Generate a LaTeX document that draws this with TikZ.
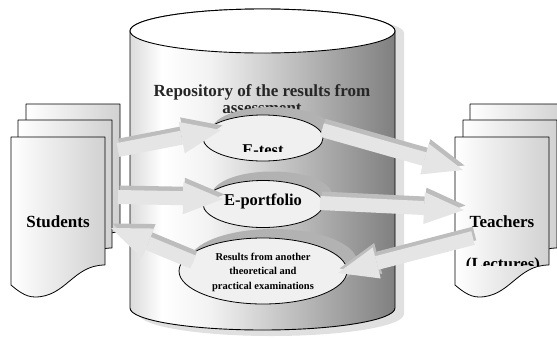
\documentclass[tikz,border=0pt]{standalone}
\usepackage{fontspec}
\setmainfont{Liberation Serif}
\usetikzlibrary{shapes.geometric,arrows.meta}
\pgfdeclarehorizontalshading{cylshade}{100bp}{color(0bp)=(black!14); color(25bp)=(black!14); color(31bp)=(white); color(40bp)=(black!5); color(75bp)=(black!50); color(100bp)=(black!50)}
\tikzset{
  leaf/.style={draw, line width=0.8pt, left color=white, right color=black!18},
  sheet/.pic={\path[leaf] (0,0) -- (94,0) -- (94,128) .. controls (62,128) and (55,160) .. (24,160) .. controls (14,160) and (6,153) .. (0,148) -- cycle;},
  bubble/.style={draw, ellipse, line width=0.8pt, fill=black!6, inner sep=0pt},
  bubshadow/.style={ellipse, fill=black!30, inner sep=0pt},
  big/.style={font=\fontsize{17}{17}\selectfont\bfseries, text=black!85},
  mid/.style={font=\fontsize{16.5}{17}\selectfont\bfseries},
  small/.style={font=\fontsize{10.5}{14.5}\selectfont\bfseries, align=center},
  flow/.style={line width=14pt, draw=black!10, -{Triangle[length=40pt,width=32pt,line width=0pt]}},
  flowtop/.style={flow, draw=black!26, transform canvas={xshift=1.5pt,yshift=4.5pt}},
}
\begin{document}
\begin{tikzpicture}[x=1pt, y=-1pt, line join=round]
                \clip (0,0) rectangle (557,338);
                % repository
                \fill[black!12] (139,33) -- (139,314) arc[start angle=180,end angle=360,x radius=132.5pt,y radius=22pt] -- (404,33) arc[start angle=0,end angle=180,x radius=132.5pt,y radius=20pt] -- cycle;
                \shadedraw[shading=cylshade, line width=0.9pt] (130,31) -- (130,308) arc[start angle=180,end angle=360,x radius=132.5pt,y radius=22pt] -- (395,31) arc[start angle=0,end angle=180,x radius=132.5pt,y radius=22pt] -- cycle;
                \draw[line width=0.9pt, fill=white] (262.5,31) ellipse[x radius=132.5pt, y radius=22pt];
                \node[big, align=center] (repo) at (262,99) {Repository of the results from\\assessment};

                \node[bubshadow, minimum width=120pt, minimum height=46pt] (etestsh) at (272,130) {};
                \node[bubshadow, minimum width=120pt, minimum height=47pt] (eportsh) at (272,195) {};
                \node[bubshadow, minimum width=168pt, minimum height=66pt] (eressh) at (273,262) {};
                \node[bubble, minimum width=120pt, minimum height=46pt] (etest) at (263,138) {};
                \node[bubble, minimum width=120pt, minimum height=47pt] (eport) at (263,204) {};
                \node[bubble, minimum width=168pt, minimum height=66pt] (eres) at (263,271) {};
                \begin{scope}
                  \clip (200,100) rectangle (330,151);
                  \node[mid] (etesttxt) at (263,150) {E-test};
                \end{scope}
                \node[mid] (eporttxt) at (263,201) {E-portfolio};
                \node[small] (erestxt) at (263,272) {Results from another\\theoretical and\\practical examinations};

                % students and teachers
                \pic at (26,104) {sheet};
                \pic at (18,120) {sheet};
                \pic at (11,137) {sheet};
                \node[big, text=black] (stu) at (58,222) {Students};
                \pic at (470,104) {sheet};
                \pic at (463,120) {sheet};
                \pic at (455,137) {sheet};
                \node[big, text=black] (tea) at (502,222) {Teachers};
                \begin{scope}
                  \clip (450,240) rectangle (557,265);
                  \node[big, text=black] (lect) at (503,265) {(Lectures)};
                \end{scope}

                % flows
                \coordinate (s1) at (118,150); \coordinate (t1) at (221,130);
                \coordinate (s2) at (322,130); \coordinate (t2) at (463,170);
                \coordinate (s3) at (118,197); \coordinate (t3) at (223,199);
                \coordinate (s4) at (320,203); \coordinate (t4) at (464,210);
                \coordinate (s5) at (193,262); \coordinate (t5) at (111,228);
                \coordinate (s6) at (473,238); \coordinate (t6) at (338,273);
                \foreach \i in {1,...,6}{
                  \draw[flowtop] (s\i) -- (t\i);
                  \draw[flow] (s\i) -- (t\i);
                }
\end{tikzpicture}
\end{document}
